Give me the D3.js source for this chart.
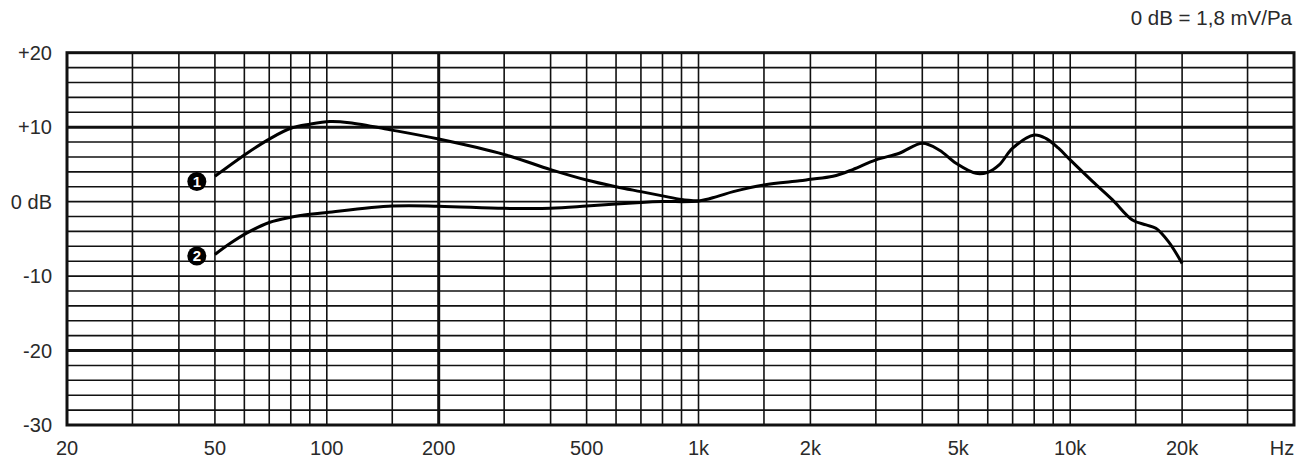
<!DOCTYPE html>
<html>
<head>
<meta charset="utf-8">
<script src="https://cdn.jsdelivr.net/npm/d3@7"></script>
<style>
  body { margin: 0; background: #fff; }
  svg { display: block; font-family: "Liberation Sans", Arial, sans-serif; }
</style>
</head>
<body>
<div id="chart"></div>
<script>
// curve 1 (only the low end differs, joins curve 2 at 1 kHz)
const freq1 = [50, 61, 70, 80, 90, 102, 115, 150, 200, 300, 400, 500, 600, 700, 800, 900, 1000];
const level1 = [3.4, 6.5, 8.4, 9.85, 10.4, 10.75, 10.6, 9.6, 8.4, 6.33, 4.3, 2.9, 2.0, 1.34, 0.77, 0.28, 0.08];

// curve 2 (full range)
const freq2 = [50, 55, 61, 70, 80, 90, 100, 150, 200, 300, 400, 500, 600, 700, 800, 1000,
  1120, 1240, 1500, 1870, 2000, 2300, 2600, 3000, 3470, 4000, 4450, 4930, 5580, 6000, 6440,
  7000, 8000, 8600, 9300, 10000, 11500, 13000, 14700, 16000, 17000, 18400, 20000];
const level2 = [-7.1, -5.6, -4.2, -2.8, -2.1, -1.7, -1.45, -0.6, -0.62, -0.9, -0.9, -0.6, -0.32, -0.12, 0.0, 0.08,
  0.67, 1.34, 2.24, 2.8, 3.0, 3.4, 4.3, 5.6, 6.5, 7.84, 6.9, 5.15, 3.8, 3.95, 4.93,
  7.17, 8.95, 8.5, 7.17, 5.6, 2.68, 0.23, -2.46, -3.13, -3.57, -5.4, -8.3];

// curve number markers
const markerFreq = [44.7, 44.7];
const markerLevel = [2.7, -7.3];
const markerText = ["1", "2"];

// grid + labels
const gridFreqs = [30, 40, 50, 60, 70, 80, 90, 100, 150, 200, 300, 400, 500, 600, 700, 800, 900,
  1000, 1500, 2000, 3000, 4000, 5000, 6000, 7000, 8000, 9000, 10000, 15000, 20000, 30000];
const boldFreqs = [200];
const gridLevels = d3.range(-28, 20, 2);
const boldLevels = [10, -20];
const freqTicks = [20, 50, 100, 200, 500, 1000, 2000, 5000, 10000, 20000];
const freqLabels = ["20", "50", "100", "200", "500", "1k", "2k", "5k", "10k", "20k"];
const levelTicks = [20, 10, 0, -10, -20, -30];
const levelLabels = ["+20", "+10", "0 dB", "-10", "-20", "-30"];

const width = 1301, height = 462;
const margin = { top: 52.7, right: 7, bottom: 37, left: 67 };

const svg = d3.select("#chart").append("svg")
  .attr("width", width)
  .attr("height", height);

const x = d3.scaleLog()
  .domain([20, 40000])
  .range([margin.left, width - margin.right]);
const y = d3.scaleLinear()
  .domain([-30, 20])
  .range([height - margin.bottom, margin.top]);

const grid = svg.append("g").attr("stroke", "#111");

grid.selectAll(".v")
  .data(gridFreqs)
  .join("line")
  .attr("x1", d => x(d)).attr("x2", d => x(d))
  .attr("y1", y(20)).attr("y2", y(-30))
  .attr("stroke-width", d => boldFreqs.includes(d) ? 3 : 1.6);

grid.selectAll(".h")
  .data(gridLevels)
  .join("line")
  .attr("y1", d => y(d)).attr("y2", d => y(d))
  .attr("x1", x(20)).attr("x2", x(40000))
  .attr("stroke-width", d => boldLevels.includes(d) ? 3 : 1.6);

// frame
svg.append("rect")
  .attr("x", x(20)).attr("y", y(20))
  .attr("width", x(40000) - x(20))
  .attr("height", y(-30) - y(20))
  .attr("fill", "none")
  .attr("stroke", "#111")
  .attr("stroke-width", 3);

// curves
const line = d3.line()
  .x(d => x(d[0]))
  .y(d => y(d[1]))
  .curve(d3.curveCatmullRom.alpha(0.5));

svg.append("path")
  .datum(freq2.map((f, i) => [f, level2[i]]))
  .attr("d", line)
  .attr("fill", "none")
  .attr("stroke", "#000")
  .attr("stroke-width", 3)
  .attr("stroke-linejoin", "round");

svg.append("path")
  .datum(freq1.map((f, i) => [f, level1[i]]))
  .attr("d", line)
  .attr("fill", "none")
  .attr("stroke", "#000")
  .attr("stroke-width", 3)
  .attr("stroke-linejoin", "round");

// numbered markers
const markers = svg.selectAll(".marker")
  .data(markerText)
  .join("g")
  .attr("transform", (d, i) => `translate(${x(markerFreq[i])},${y(markerLevel[i])})`);
markers.append("circle")
  .attr("r", 9.5)
  .attr("fill", "#000");
markers.append("text")
  .attr("text-anchor", "middle")
  .attr("dy", "0.36em")
  .attr("fill", "#fff")
  .style("font-size", "15px")
  .style("font-weight", "bold")
  .text(d => d);

// axis labels
svg.append("g")
  .selectAll("text")
  .data(levelTicks)
  .join("text")
  .attr("x", margin.left - 15)
  .attr("y", d => y(d))
  .attr("dy", "0.35em")
  .attr("text-anchor", "end")
  .attr("fill", "#2a2a2a")
  .style("font-size", "20px")
  .text((d, i) => levelLabels[i]);

svg.append("g")
  .selectAll("text")
  .data(freqTicks)
  .join("text")
  .attr("x", d => x(d))
  .attr("y", height - 14)
  .attr("dy", "0.35em")
  .attr("text-anchor", "middle")
  .attr("fill", "#2a2a2a")
  .style("font-size", "20px")
  .text((d, i) => freqLabels[i]);

svg.append("text")
  .attr("x", x(40000) - 12)
  .attr("y", height - 14)
  .attr("dy", "0.35em")
  .attr("text-anchor", "middle")
  .attr("fill", "#2a2a2a")
  .style("font-size", "20px")
  .text("Hz");

svg.append("text")
  .attr("x", width - 9)
  .attr("y", 18)
  .attr("dy", "0.35em")
  .attr("text-anchor", "end")
  .attr("fill", "#2a2a2a")
  .style("font-size", "20.5px")
  .text("0 dB = 1,8 mV/Pa");
</script>
</body>
</html>
